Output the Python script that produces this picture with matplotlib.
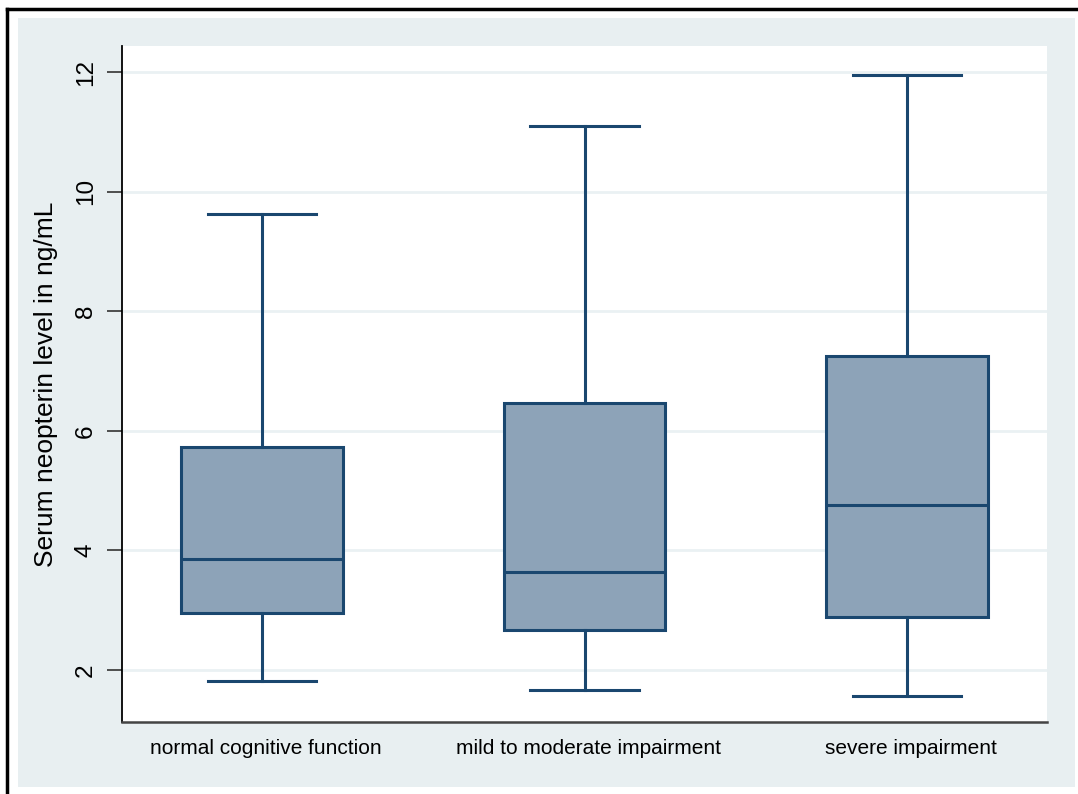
import matplotlib
matplotlib.use("Agg")
import matplotlib.pyplot as plt
from matplotlib.lines import Line2D
from matplotlib.patches import Rectangle
from matplotlib.transforms import ScaledTranslation

plt.rcParams['font.family'] = ['Liberation Sans', 'DejaVu Sans']

# Cognitive-function groups and their box-plot summaries (ng/mL)
groups = ["normal cognitive function", "mild to moderate impairment", "severe impairment"]
whisker_low = [1.82, 1.66, 1.57]
q1 = [2.95, 2.67, 2.88]
median = [3.86, 3.64, 4.76]
q3 = [5.73, 6.47, 7.25]
whisker_high = [9.63, 11.10, 11.95]
y_ticks = [2, 4, 6, 8, 10, 12]

navy = "#1A476F"
fill = "#8DA3B8"
panel = "#E8EFF1"
grid = "#EAF1F3"

fig = plt.figure(figsize=(10.78, 7.94), dpi=100, facecolor="white")
W, H = 1078, 794

# light panel behind the plot region
fig.add_artist(Rectangle((18 / W, 1 - 787 / H), (1075 - 18) / W, (787 - 18) / H,
                         transform=fig.transFigure, facecolor=panel, edgecolor="none", zorder=0))
# outer frame (top and left edges)
fig.add_artist(Line2D([6.5 / W, 1.0], [1 - 9 / H, 1 - 9 / H], transform=fig.transFigure,
                      color="black", lw=2.5, zorder=1))
fig.add_artist(Line2D([7 / W, 7 / W], [1 - 9 / H, 0.0], transform=fig.transFigure,
                      color="black", lw=2.5, zorder=1))

ax = fig.add_axes([122 / W, 1 - 722 / H, (1047 - 122) / W, (722 - 46) / H])
ax.set_facecolor("white")

stats = []
for i, g in enumerate(groups):
    stats.append(dict(label=g, whislo=whisker_low[i], q1=q1[i], med=median[i],
                      q3=q3[i], whishi=whisker_high[i], fliers=[]))

ax.bxp(stats, positions=[1, 2, 3], widths=0.502, capwidths=0.335, patch_artist=True,
       showfliers=False,
       boxprops=dict(facecolor=fill, edgecolor=navy, linewidth=2.2),
       medianprops=dict(color=navy, linewidth=2.2),
       whiskerprops=dict(color=navy, linewidth=2.2),
       capprops=dict(color=navy, linewidth=2.2))

ax.set_xlim(0.566, 3.434)
ax.set_ylim(1.13, 12.435)
ax.set_yticks(y_ticks)
ax.set_yticklabels([str(t) for t in y_ticks], rotation=90, va="center", fontsize=17.5)
ax.yaxis.grid(True, color=grid, linewidth=2)
ax.set_axisbelow(True)
ax.tick_params(axis="y", length=11, width=1.2, color="#333333", pad=7)
ax.tick_params(axis="x", length=0, labelsize=15, pad=12)
ax.set_xticklabels(groups)
# nudge category labels slightly to the right
shift = ScaledTranslation(4 / 100, 0, fig.dpi_scale_trans)
for lbl in ax.get_xticklabels():
    lbl.set_transform(lbl.get_transform() + shift)
ax.set_ylabel("Serum neopterin level in ng/mL", fontsize=19, labelpad=12)

for side in ("top", "right"):
    ax.spines[side].set_visible(False)
ax.spines["left"].set_color("black")
ax.spines["left"].set_linewidth(1.3)
ax.spines["bottom"].set_color("#444444")
ax.spines["bottom"].set_linewidth(1.8)

fig.savefig("out.png", dpi=100, facecolor="white")
